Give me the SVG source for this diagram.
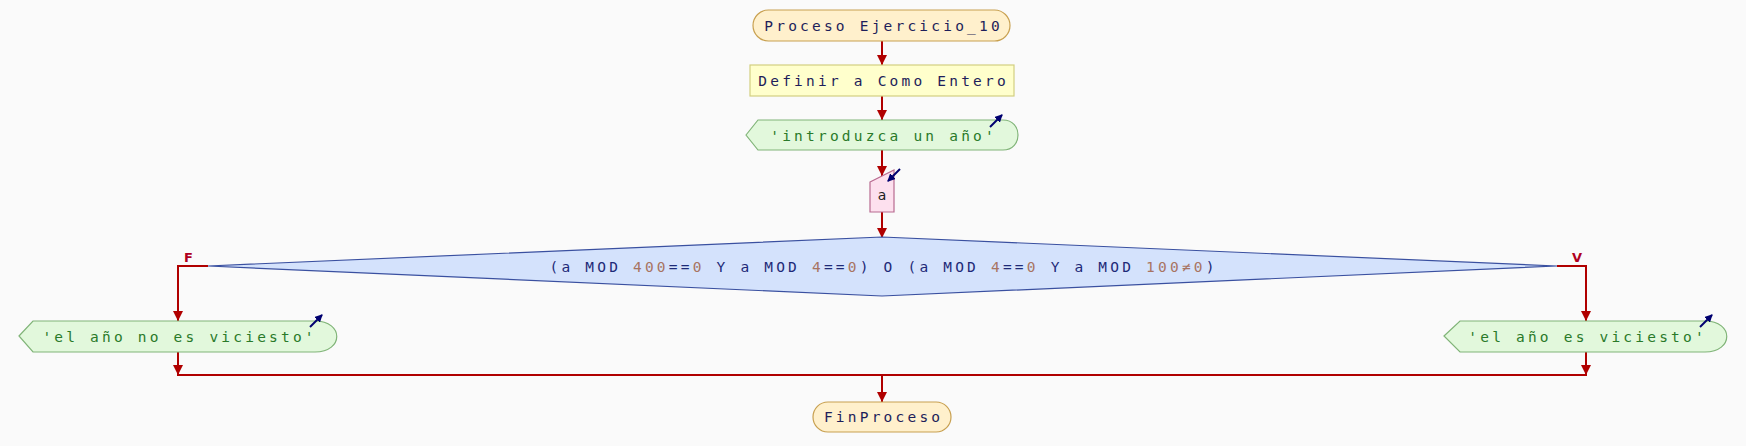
<svg xmlns="http://www.w3.org/2000/svg" width="1746" height="446" viewBox="0 0 1746 446">
<style>
.t{font-family:"DejaVu Sans Mono","Liberation Mono",monospace;font-size:14.5px;letter-spacing:3.2px;text-anchor:middle}
.dk{fill:#1e1e5a}
.str{fill:#2a7a2a}
.kw{fill:#1e2a78}
.num{fill:#a87462}
.term{fill:#fff0cc;stroke:#c8a050;stroke-width:1.2}
.proc{fill:#ffffcc;stroke:#d2cf80;stroke-width:1.2}
.out{fill:#e2f8dc;stroke:#80b478;stroke-width:1.2}
.inp{fill:#fde0ee;stroke:#b86a90;stroke-width:1.2}
.dec{fill:#d4e2fc;stroke:#3a50a0;stroke-width:1.2}
.c{fill:none;stroke:#b00000;stroke-width:2}
.ic{fill:none;stroke:#000070;stroke-width:2}
.lbl{font-family:"DejaVu Sans","Liberation Sans",sans-serif;font-size:13px;font-weight:bold;fill:#b00020;text-anchor:middle}
</style>
<defs>
<marker id="ah" markerUnits="userSpaceOnUse" markerWidth="12" markerHeight="10" refX="10" refY="5" orient="auto">
<path d="M0,0 L10,5 L0,10 Z" fill="#b00000"/>
</marker>
<marker id="ih" markerUnits="userSpaceOnUse" markerWidth="10" markerHeight="10" refX="7" refY="4" orient="auto">
<path d="M0,0 L8,4 L0,8 Z" fill="#000070"/>
</marker>
</defs>
<rect width="1746" height="446" fill="#fafafa"/>
<g id="connectors">
<line class="c" x1="882" y1="41" x2="882" y2="65" marker-end="url(#ah)"/>
<line class="c" x1="882" y1="96" x2="882" y2="120" marker-end="url(#ah)"/>
<line class="c" x1="882" y1="150" x2="882" y2="176" marker-end="url(#ah)"/>
<line class="c" x1="882" y1="212" x2="882" y2="238" marker-end="url(#ah)"/>
<polyline class="c" points="208,266 178,266 178,321" marker-end="url(#ah)"/>
<polyline class="c" points="1557,266 1586,266 1586,321" marker-end="url(#ah)"/>
<line class="c" x1="178" y1="352" x2="178" y2="375" marker-end="url(#ah)"/>
<line class="c" x1="1586" y1="352" x2="1586" y2="375" marker-end="url(#ah)"/>
<line class="c" x1="177" y1="375" x2="1587" y2="375"/>
<line class="c" x1="882" y1="375" x2="882" y2="402" marker-end="url(#ah)"/>
<text class="lbl" x="188.5" y="262">F</text>
<text class="lbl" x="1577" y="262">V</text>
</g>
<g id="start">
<rect class="term" x="753" y="10" width="257" height="31" rx="15.5"/>
<text class="t dk" x="883.6" y="30.5">Proceso Ejercicio_10</text>
</g>
<g id="define">
<rect class="proc" x="750" y="65" width="264" height="31"/>
<text class="t dk" x="883.6" y="86">Definir a Como Entero</text>
</g>
<g id="write1">
<path class="out" d="M746,135 L758,120 L1003,120 C1023,120 1023,150 1003,150 L758,150 Z"/>
<text class="t str" x="883.6" y="140.5">'introduzca un año'</text>
<line class="ic" x1="990" y1="127" x2="1002" y2="115" marker-end="url(#ih)"/>
</g>
<g id="read">
<path class="inp" d="M870,182 L894,170 L894,212 L870,212 Z"/>
<text x="882" y="200" font-family="DejaVu Sans, Liberation Sans, sans-serif" font-size="14" fill="#222" text-anchor="middle">a</text>
<line class="ic" x1="900" y1="169" x2="888" y2="181" marker-end="url(#ih)"/>
</g>
<g id="decision">
<path class="dec" d="M208,266 L882,237 L1557,266 L882,296 Z"/>
<text class="t kw" x="883.6" y="271.5">(a MOD <tspan class="num">400</tspan>==<tspan class="num">0</tspan> Y a MOD <tspan class="num">4</tspan>==<tspan class="num">0</tspan>) O (a MOD <tspan class="num">4</tspan>==<tspan class="num">0</tspan> Y a MOD <tspan class="num">100≠0</tspan>)</text>
</g>
<g id="write_no">
<path class="out" d="M19,336 L33,321 L315,321 C344,321 344,352 315,352 L33,352 Z"/>
<text class="t str" x="179.6" y="341.5">'el año no es viciesto'</text>
<line class="ic" x1="310" y1="327" x2="322" y2="315" marker-end="url(#ih)"/>
</g>
<g id="write_yes">
<path class="out" d="M1444,336 L1460,321 L1705,321 C1734,321 1734,352 1705,352 L1460,352 Z"/>
<text class="t str" x="1587.6" y="341.5">'el año es viciesto'</text>
<line class="ic" x1="1700" y1="327" x2="1712" y2="315" marker-end="url(#ih)"/>
</g>
<g id="end">
<rect class="term" x="813" y="402" width="138" height="30" rx="15"/>
<text class="t dk" x="883.6" y="421.5">FinProceso</text>
</g>
</svg>
